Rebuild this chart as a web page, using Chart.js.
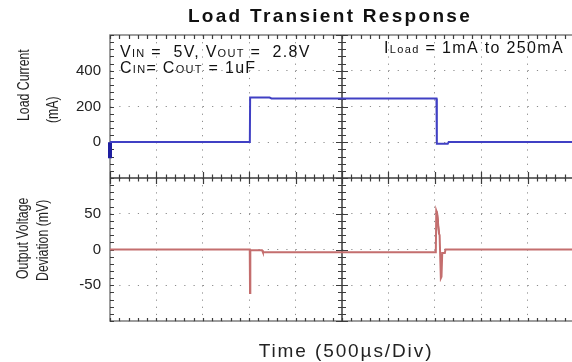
<!DOCTYPE html>
<html>
<head>
<meta charset="utf-8">
<script src="https://cdn.jsdelivr.net/npm/chart.js@4.4.0/dist/chart.umd.min.js"></script>
<style>
  html, body { margin: 0; padding: 0; background: #fff; overflow: hidden; }
  #wrap { width: 582px; height: 362px; }
</style>
</head>
<body>
<div id="wrap"><canvas id="scope" width="582" height="362"></canvas></div>
<script>
// load current trace (time in µs, current in mA)
const timeI = [0, 1507, 1510, 1720, 1740, 3518, 3522, 3640, 3650, 5000];
const loadI = [2, 2, 250, 250, 245, 245, -8, -8, 2, 2];

// output voltage deviation trace (time in µs, deviation in mV)
const timeV = [0, 1506, 1509, 1512, 1638, 1648, 3511, 3516, 3526, 3545, 3552, 3565, 3572, 3580, 3608, 3615, 5000];
const voltV = [0, 0, -61, -1, -1, -4, -4, 54, 50, 22, 20, -40, -38, -5, -5, 0, 0];

// darker core of the spikes (null splits the two pieces)
const timeVd = [1509, 1510, 2000, 3518, 3526, 3545];
const voltVd = [-61, -2, null, 54, 50, 22];

// channel marker on the left edge
const markerT = [0, 0];
const markerI = [0, -90];

const FONT = "'Liberation Sans', Arial, sans-serif";

const pts = (xs, ys) => xs.map((x, i) => ({ x: x, y: ys[i] }));

function drawRuns(ctx, x, y, parts, spacing) {
  ctx.letterSpacing = spacing + 'px';
  for (const [t, size] of parts) {
    ctx.font = size + 'px ' + FONT;
    ctx.fillText(t, x, y);
    x += ctx.measureText(t).width;
  }
}

const scopePlugin = {
  id: 'scope',
  beforeDatasetsDraw(chart) {
    const { ctx, chartArea: a, scales } = chart;
    const x = scales.x, yI = scales.yI, yV = scales.yV;
    const cx = x.getPixelForValue(2500);
    const cy = yI.getPixelForValue(-200);
    ctx.save();
    // frame
    ctx.strokeStyle = 'rgb(125,125,125)';
    ctx.lineWidth = 1.5;
    ctx.beginPath();
    ctx.moveTo(a.right, a.top); ctx.lineTo(a.left, a.top);
    ctx.lineTo(a.left, a.bottom); ctx.lineTo(a.right, a.bottom);
    ctx.stroke();
    // centre cross
    ctx.strokeStyle = 'rgb(60,60,60)';
    ctx.beginPath();
    ctx.moveTo(cx, a.top); ctx.lineTo(cx, a.bottom);
    ctx.moveTo(a.left, cy); ctx.lineTo(a.right, cy);
    ctx.stroke();
    // ticks along x
    ctx.lineWidth = 1.2;
    ctx.beginPath();
    for (let t = 0; t <= 5000; t += 100) {
      const px = Math.round(x.getPixelForValue(t)) + 0.5;
      const major = t % 500 === 0;
      const l = major ? 6 : 3.5;
      ctx.moveTo(px, cy - l); ctx.lineTo(px, cy + l);
      ctx.moveTo(px, a.top); ctx.lineTo(px, a.top + 4);
      ctx.moveTo(px, a.bottom); ctx.lineTo(px, a.bottom - 3);
    }
    // ticks along y
    const yTicks = [];
    for (let v = -200; v <= 600; v += 40) yTicks.push([yI.getPixelForValue(v), v % 200 === 0]);
    for (let v = -100; v <= 100; v += 10) yTicks.push([yV.getPixelForValue(v), v % 50 === 0]);
    for (const [py0, major] of yTicks) {
      const py = Math.round(py0) + 0.5;
      const l = major ? 6 : 4;
      ctx.moveTo(cx - l, py); ctx.lineTo(cx + l, py);
      ctx.moveTo(a.left, py); ctx.lineTo(a.left + 4, py);
    }
    ctx.stroke();
    ctx.restore();
  },
  afterDraw(chart) {
    const { ctx } = chart;
    ctx.save();
    ctx.fillStyle = '#111';
    ctx.textBaseline = 'alphabetic';
    ctx.textAlign = 'center';
    // title
    ctx.letterSpacing = '2.3px';
    ctx.font = 'bold 19px ' + FONT;
    ctx.fillText('Load Transient Response', 330, 22);
    // x axis label
    ctx.letterSpacing = '1.9px';
    ctx.font = '19px ' + FONT;
    ctx.fillStyle = '#222';
    ctx.fillText('Time (500µs/Div)', 346, 357);
    // y axis labels (stretched like the scope capture)
    ctx.letterSpacing = '0px';
    ctx.font = '12.3px ' + FONT;
    ctx.textAlign = 'left';
    ctx.textBaseline = 'middle';
    const ylab = [['Load Current', 24, 121], ['(mA)', 53, 123], ['Output Voltage', 23, 279], ['Deviation (mV)', 43, 281]];
    for (const [t, xx, yy] of ylab) {
      ctx.save();
      ctx.translate(xx, yy);
      ctx.rotate(-Math.PI / 2);
      ctx.scale(1, 1.4);
      ctx.fillText(t, 0, 0);
      ctx.restore();
    }
    // annotations
    ctx.textBaseline = 'alphabetic';
    ctx.fillStyle = '#111';
    drawRuns(ctx, 120, 57, [['V', 16], ['IN', 11], [' =  5V, V', 16], ['OUT', 11], [' =  2.8V', 16]], 1.3);
    drawRuns(ctx, 120, 73, [['C', 16], ['IN', 11], ['= C', 16], ['OUT', 11], [' = 1uF', 16]], 1.3);
    drawRuns(ctx, 384, 53, [['I', 16], ['Load', 11], [' = 1mA to 250mA', 16]], 1.35);
    ctx.restore();
  }
};

const config = {
  type: 'line',
  data: {
    datasets: [
      { label: 'Load Current', data: pts(timeI, loadI), yAxisID: 'yI', borderColor: 'rgb(64,64,196)', borderWidth: 2, pointRadius: 0, tension: 0 },
      { label: 'Marker', data: pts(markerT, markerI), yAxisID: 'yI', borderColor: 'rgb(30,30,160)', borderWidth: 4, pointRadius: 0, clip: false },
      { label: 'Output Voltage Deviation', data: pts(timeV, voltV), yAxisID: 'yV', borderColor: 'rgb(196,110,110)', borderWidth: 2, pointRadius: 0, tension: 0 },
      { label: 'Spike core', data: pts(timeVd, voltVd), yAxisID: 'yV', borderColor: 'rgb(135,20,20)', borderWidth: 1.5, pointRadius: 0, tension: 0, spanGaps: false }
    ]
  },
  options: {
    responsive: false,
    animation: false,
    layout: { padding: { top: 35, right: 8, left: 0, bottom: 0 } },
    plugins: { legend: { display: false }, tooltip: { enabled: false } },
    scales: {
      x: {
        type: 'linear', min: 0, max: 5000,
        ticks: { stepSize: 500, display: false },
        grid: { color: 'rgb(140,140,140)', lineWidth: 1, drawTicks: false },
        border: { display: false, dash: [1.2, 5.95] },
        afterFit(s) { s.height = 41; }
      },
      yV: {
        type: 'linear', position: 'left', stack: 'panels', stackWeight: 1,
        min: -100, max: 100,
        ticks: { stepSize: 50, padding: 9, autoSkip: false, color: '#222', font: { family: FONT, size: 15 },
          callback: v => (v === 0 || v === 50 || v === -50) ? String(v) : '' },
        grid: { color: 'rgb(140,140,140)', drawTicks: false },
        border: { display: false, dash: [1.2, 8.08] },
        afterFit(s) { s.width = 110; }
      },
      yI: {
        type: 'linear', position: 'left', stack: 'panels', stackWeight: 1,
        min: -200, max: 600,
        ticks: { stepSize: 200, padding: 9, autoSkip: false, color: '#222', font: { family: FONT, size: 15 },
          callback: v => (v === 0 || v === 200 || v === 400) ? String(v) : '' },
        grid: { color: 'rgb(140,140,140)', drawTicks: false },
        border: { display: false, dash: [1.2, 8.08] },
        afterFit(s) { s.width = 110; }
      }
    }
  },
  plugins: [scopePlugin]
};

new Chart(document.getElementById('scope'), config);
</script>
</body>
</html>
